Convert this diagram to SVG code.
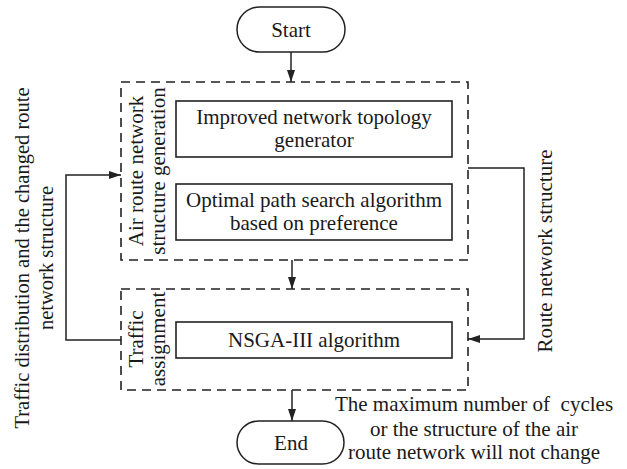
<svg xmlns="http://www.w3.org/2000/svg" width="627" height="469" viewBox="0 0 627 469">
  <style>
    text { font-family: "Liberation Serif", "Times New Roman", serif; font-size: 21px; fill: #1a1a1a; }
    .c { text-anchor: middle; }
    .side { font-size: 20.5px; }
    .term { fill: #fff; stroke: #222; stroke-width: 1.5; }
    .proc { fill: #fff; stroke: #222; stroke-width: 1.6; }
    .group { fill: none; stroke: #222; stroke-width: 1.6; stroke-dasharray: 9 6; }
    .link { fill: none; stroke: #222; stroke-width: 1.5; }
  </style>
  <defs>
    <marker id="arrow" viewBox="0 0 12 8" refX="12" refY="4" markerWidth="12" markerHeight="8" markerUnits="userSpaceOnUse" orient="auto">
      <path d="M0,0 L12,4 L0,8 Z" fill="#222"/>
    </marker>
  </defs>

  <rect width="627" height="469" fill="#fff"/>

  <!-- Connectors -->
  <g id="connectors">
    <line class="link" x1="291" y1="52" x2="291" y2="82" marker-end="url(#arrow)"/>
    <line class="link" x1="292" y1="260" x2="292" y2="289" marker-end="url(#arrow)"/>
    <line class="link" x1="292" y1="390" x2="292" y2="421" marker-end="url(#arrow)"/>
    <!-- feedback loop on the left -->
    <polyline class="link" points="121,340 66,340 66,175 121,175" marker-end="url(#arrow)"/>
    <!-- route network structure loop on the right -->
    <polyline class="link" points="468,168 524,168 524,339 468,339" marker-end="url(#arrow)"/>
    <text class="c side" transform="translate(29,258) rotate(-90)">Traffic distribution and the changed route</text>
    <text class="c side" transform="translate(53,258) rotate(-90)">network structure</text>
    <text class="c" transform="translate(552,251) rotate(-90)">Route network structure</text>
  </g>

  <!-- Start terminal -->
  <g id="start">
    <rect class="term" x="237" y="7" width="108" height="45" rx="22.5"/>
    <text class="c" x="291" y="37">Start</text>
  </g>

  <!-- Air route network structure generation stage -->
  <g id="stage-generation">
    <rect class="group" x="121" y="82" width="347" height="178"/>
    <text class="c" transform="translate(143,171) rotate(-90)">Air route network</text>
    <text class="c" transform="translate(165,171) rotate(-90)">structure generation</text>
  </g>

  <g id="topology-generator">
    <rect class="proc" x="176" y="101" width="276" height="56"/>
    <text class="c" x="314" y="124">Improved network topology</text>
    <text class="c" x="314" y="147">generator</text>
  </g>

  <g id="path-search">
    <rect class="proc" x="176" y="184" width="276" height="56"/>
    <text class="c" x="314" y="207">Optimal path search algorithm</text>
    <text class="c" x="314" y="230">based on preference</text>
  </g>

  <!-- Traffic assignment stage -->
  <g id="stage-assignment">
    <rect class="group" x="121" y="289" width="347" height="101"/>
    <text class="c" transform="translate(143,339) rotate(-90)">Traffic</text>
    <text class="c" transform="translate(165,339) rotate(-90)">assignment</text>
  </g>

  <g id="nsga">
    <rect class="proc" x="176" y="322" width="276" height="36"/>
    <text class="c" x="314" y="347">NSGA-III algorithm</text>
  </g>

  <!-- End terminal with stop condition -->
  <g id="end">
    <rect class="term" x="237" y="421" width="107" height="43" rx="21.5"/>
    <text class="c" x="291" y="450">End</text>
  </g>

  <g id="stop-condition">
    <text class="c" x="474" y="411" xml:space="preserve">The maximum number of  cycles</text>
    <text class="c" x="474" y="436">or the structure of the air</text>
    <text class="c" x="474" y="459">route network will not change</text>
  </g>
</svg>
